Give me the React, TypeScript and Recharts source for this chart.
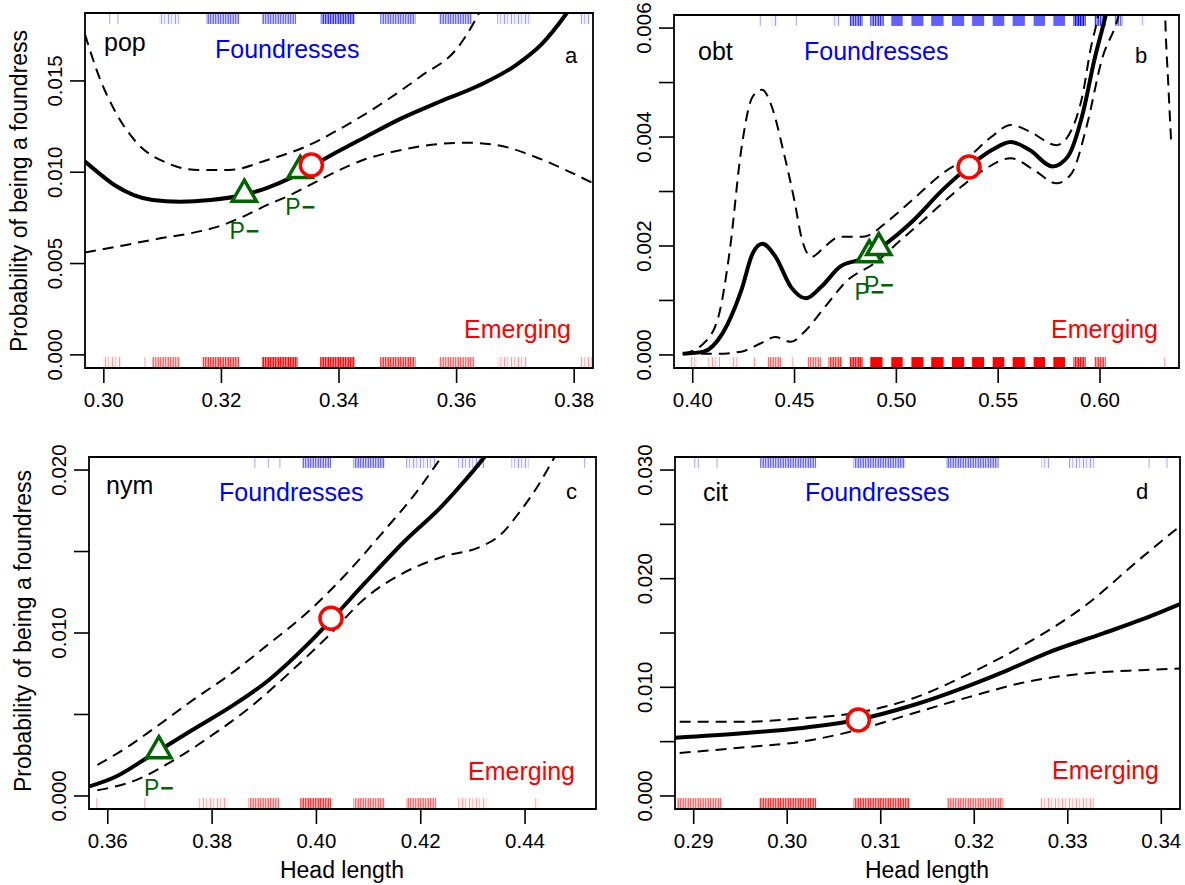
import { ComposedChart, Line, XAxis, YAxis, ReferenceArea, ReferenceDot } from 'recharts'

const FONT = '"Liberation Sans", Arial, Helvetica, sans-serif'
const BLUE = '#0000ff'
const RED = '#ff0000'
const GREEN = '#006400'

type Pair = [number, number]
type Rug = [number, number, number] // from, to, density level (1 sparse .. 5 solid)

// ---- a: pop
const popFit: Pair[] = [[0.2968, 0.01058], [0.2992, 0.00994], [0.3018, 0.0093], [0.3051, 0.00875], [0.3083, 0.00848], [0.3129, 0.00839], [0.3181, 0.00848], [0.3239, 0.00877], [0.3278, 0.00915], [0.3317, 0.00968], [0.3382, 0.01085], [0.3441, 0.01186], [0.3506, 0.01295], [0.3571, 0.01386], [0.3636, 0.01472], [0.3701, 0.01587], [0.3746, 0.01706], [0.3785, 0.01861], [0.381, 0.0198]]
const popUpper: Pair[] = [[0.2968, 0.01755], [0.2992, 0.01523], [0.3018, 0.01341], [0.3057, 0.01158], [0.3109, 0.01049], [0.3161, 0.01012], [0.3213, 0.01012], [0.3278, 0.01067], [0.3343, 0.0114], [0.3408, 0.01249], [0.3473, 0.01377], [0.3538, 0.01523], [0.3603, 0.01687], [0.3633, 0.0184], [0.365, 0.0195]]
const popLower: Pair[] = [[0.2968, 0.0056], [0.3038, 0.00602], [0.3096, 0.00638], [0.3148, 0.00666], [0.3194, 0.00702], [0.3239, 0.0076], [0.3278, 0.00821], [0.3317, 0.00875], [0.3356, 0.00939], [0.3395, 0.01003], [0.3441, 0.01067], [0.3506, 0.01122], [0.3571, 0.01155], [0.3616, 0.01162], [0.3668, 0.01149], [0.3733, 0.01085], [0.3779, 0.01022], [0.3832, 0.0094]]
const popTriangles: Pair[] = [[0.3239, 0.0088], [0.3334, 0.0101]]
const popCircles: Pair[] = [[0.3353, 0.0104]]
const popRugTop: Rug[] = [[0.3009, 0.3011, 1], [0.3023, 0.3025, 1], [0.3094, 0.313, 1], [0.3174, 0.323, 2], [0.3269, 0.3327, 2], [0.3369, 0.3427, 3], [0.347, 0.353, 2], [0.357, 0.3626, 2], [0.3669, 0.3727, 1], [0.3809, 0.3826, 1]]
const popRugBottom: Rug[] = [[0.2998, 0.3031, 1], [0.3069, 0.3071, 1], [0.3082, 0.3129, 2], [0.3168, 0.323, 3], [0.3269, 0.333, 4], [0.3368, 0.3427, 4], [0.347, 0.353, 3], [0.357, 0.363, 2], [0.367, 0.372, 1], [0.381, 0.383, 1]]
const popXTicks = [0.3, 0.32, 0.34, 0.36, 0.38]
const popYTicks = [0, 0.005, 0.01, 0.015]
const popYLabels = [0, 0.005, 0.01, 0.015]

// ---- b: obt
const obtFit: Pair[] = [[0.3951, 0.00002], [0.4053, 0.00006], [0.4147, 0.0004], [0.4239, 0.00119], [0.4295, 0.00187], [0.4342, 0.00204], [0.4407, 0.0018], [0.4482, 0.00125], [0.4556, 0.00104], [0.4631, 0.00125], [0.4724, 0.00162], [0.4836, 0.00177], [0.4929, 0.00199], [0.5078, 0.00245], [0.5227, 0.00303], [0.5357, 0.00346], [0.5469, 0.00376], [0.5562, 0.00391], [0.5655, 0.00376], [0.5767, 0.00346], [0.5842, 0.00364], [0.5916, 0.00444], [0.5972, 0.00541], [0.6028, 0.00624], [0.606, 0.0068]]
const obtUpper: Pair[] = [[0.3951, 0.00002], [0.4053, 0.00021], [0.4126, 0.0007], [0.4182, 0.00192], [0.4238, 0.00376], [0.4294, 0.00474], [0.4341, 0.00487], [0.4388, 0.00456], [0.4444, 0.00376], [0.4499, 0.00284], [0.4537, 0.00211], [0.4583, 0.0018], [0.4649, 0.00199], [0.4723, 0.00217], [0.4835, 0.00217], [0.4966, 0.00248], [0.5077, 0.00284], [0.5226, 0.00333], [0.5356, 0.00364], [0.5469, 0.00401], [0.5562, 0.00422], [0.5655, 0.0041], [0.5786, 0.00385], [0.586, 0.00413], [0.5916, 0.0048], [0.5953, 0.0056], [0.5991, 0.00624], [0.602, 0.007]]
const obtLower: Pair[] = [[0.3951, 0.00002], [0.4108, 0.00002], [0.4238, 0.00006], [0.4332, 0.00021], [0.4406, 0.00033], [0.4481, 0.00024], [0.4555, 0.00045], [0.4649, 0.00088], [0.476, 0.00137], [0.4891, 0.00168], [0.5022, 0.00211], [0.5171, 0.0026], [0.532, 0.00309], [0.5431, 0.0034], [0.5562, 0.00361], [0.5674, 0.0034], [0.5786, 0.00315], [0.586, 0.00333], [0.5934, 0.00419], [0.6009, 0.00542], [0.6092, 0.00624], [0.612, 0.0067]]
const obtLowerTail: Pair[] = [[0.6316, 0.0068], [0.6321, 0.00612], [0.6335, 0.005], [0.6349, 0.00394]]
const obtTriangles: Pair[] = [[0.4867, 0.00184], [0.4914, 0.00197]]
const obtCircles: Pair[] = [[0.5357, 0.00345]]
const obtRugTop: Rug[] = [[0.4331, 0.4333, 1], [0.4388, 0.4416, 1], [0.4508, 0.451, 1], [0.4686, 0.4723, 1], [0.477, 0.4835, 3], [0.4872, 0.4938, 3], [0.4975, 0.5031, 5], [0.5074, 0.5133, 5], [0.5171, 0.5232, 5], [0.5273, 0.5333, 5], [0.5372, 0.5431, 5], [0.5473, 0.553, 5], [0.5571, 0.5631, 5], [0.5674, 0.573, 5], [0.5771, 0.5828, 5], [0.587, 0.5929, 4], [0.5972, 0.6028, 3], [0.6071, 0.6112, 2], [0.6196, 0.6215, 1]]
const obtRugBottom: Rug[] = [[0.3987, 0.4024, 1], [0.4071, 0.4136, 1], [0.4182, 0.4229, 1], [0.4294, 0.4313, 1], [0.4369, 0.4434, 2], [0.4481, 0.4499, 1], [0.4565, 0.463, 2], [0.4667, 0.4733, 3], [0.477, 0.4835, 4], [0.4872, 0.4932, 5], [0.4975, 0.5031, 5], [0.5074, 0.5133, 5], [0.5171, 0.5232, 5], [0.5273, 0.5333, 5], [0.5372, 0.5431, 5], [0.5473, 0.553, 5], [0.5571, 0.5631, 5], [0.5674, 0.573, 5], [0.5771, 0.5828, 5], [0.587, 0.5929, 4], [0.5972, 0.6028, 3], [0.6316, 0.6318, 1]]
const obtXTicks = [0.4, 0.45, 0.5, 0.55, 0.6]
const obtYTicks = [0, 0.001, 0.002, 0.003, 0.004, 0.005, 0.006]
const obtYLabels = [0, 0.002, 0.004, 0.006]

// ---- c: nym
const nymFit: Pair[] = [[0.3563, 0.00057], [0.3615, 0.00118], [0.3674, 0.00231], [0.3762, 0.00405], [0.3836, 0.00548], [0.3909, 0.00712], [0.3983, 0.0093], [0.4028, 0.0108], [0.4094, 0.0131], [0.4168, 0.0156], [0.4241, 0.0178], [0.4286, 0.0194], [0.4322, 0.0208], [0.434, 0.0216]]
const nymUpper: Pair[] = [[0.358, 0.0019], [0.3638, 0.00301], [0.3697, 0.00434], [0.3763, 0.00588], [0.3837, 0.00752], [0.391, 0.00936], [0.3984, 0.0113], [0.4058, 0.01366], [0.4131, 0.01632], [0.419, 0.01857], [0.4238, 0.02072], [0.4255, 0.0215]]
const nymLower: Pair[] = [[0.358, 0.00035], [0.3653, 0.00096], [0.3726, 0.00219], [0.38, 0.00373], [0.3874, 0.00547], [0.3947, 0.00752], [0.4021, 0.00976], [0.4094, 0.01215], [0.4168, 0.0137], [0.4242, 0.01468], [0.4315, 0.0153], [0.4352, 0.016], [0.4389, 0.0174], [0.4426, 0.0191], [0.4455, 0.0207], [0.447, 0.0215]]
const nymTriangles: Pair[] = [[0.3698, 0.00278]]
const nymCircles: Pair[] = [[0.4028, 0.0109]]
const nymRugTop: Rug[] = [[0.3881, 0.3883, 1], [0.3907, 0.3909, 1], [0.3929, 0.3931, 1], [0.3973, 0.4028, 2], [0.4071, 0.4131, 2], [0.4172, 0.423, 1], [0.4271, 0.4323, 1], [0.4374, 0.4407, 1], [0.4513, 0.4515, 1]]
const nymRugBottom: Rug[] = [[0.3578, 0.358, 1], [0.367, 0.3672, 1], [0.3771, 0.3829, 1], [0.387, 0.3929, 2], [0.3969, 0.4028, 3], [0.4071, 0.4131, 2], [0.4172, 0.423, 2], [0.4271, 0.4326, 1], [0.4418, 0.4426, 1]]
const nymXTicks = [0.36, 0.38, 0.4, 0.42, 0.44]
const nymYTicks = [0, 0.005, 0.01, 0.015, 0.02]
const nymYLabels = [0, 0.01, 0.02]

// ---- d: cit
const citFit: Pair[] = [[0.288, 0.00536], [0.2952, 0.00577], [0.3013, 0.00623], [0.3074, 0.00699], [0.3135, 0.00837], [0.3196, 0.01021], [0.3236, 0.01159], [0.3277, 0.01313], [0.3338, 0.01497], [0.3378, 0.0162], [0.342, 0.01767]]
const citUpper: Pair[] = [[0.2885, 0.00682], [0.2952, 0.00682], [0.3013, 0.00713], [0.3074, 0.00765], [0.3134, 0.00897], [0.3195, 0.01127], [0.3256, 0.01404], [0.3317, 0.01741], [0.3378, 0.02187], [0.342, 0.02484]]
const citLower: Pair[] = [[0.2885, 0.00396], [0.2952, 0.00446], [0.3013, 0.00497], [0.3074, 0.00605], [0.3134, 0.00759], [0.3195, 0.00912], [0.3256, 0.0105], [0.3317, 0.01127], [0.3378, 0.01158], [0.342, 0.01173]]
const citCircles: Pair[] = [[0.3076, 0.00699]]
const citRugTop: Rug[] = [[0.29, 0.2902, 1], [0.2904, 0.2906, 1], [0.2924, 0.2926, 1], [0.2971, 0.3031, 2], [0.3071, 0.3126, 2], [0.317, 0.3226, 2], [0.3272, 0.328, 1], [0.3301, 0.3329, 1], [0.3386, 0.3388, 1], [0.3405, 0.3407, 1]]
const citRugBottom: Rug[] = [[0.2882, 0.293, 2], [0.297, 0.3031, 3], [0.3071, 0.3131, 3], [0.3171, 0.3231, 2], [0.327, 0.3329, 1]]
const citXTicks = [0.29, 0.3, 0.31, 0.32, 0.33, 0.34]
const citYTicks = [0, 0.005, 0.01, 0.015, 0.02, 0.025, 0.03]
const citYLabels = [0, 0.01, 0.02, 0.03]

const toPts = (a: Pair[]) => a.map(([x, y]) => ({ x, y }))

const panels = [
  { id: 'a', left: 0, top: 0, width: 600, height: 440, margin: { top: 13, right: 7, bottom: 22, left: 0 }, yWidth: 85,
    xDomain: [0.2968, 0.3832], yDomain: [-0.00072, 0.01872], xTicks: popXTicks, xDigits: 2, yTicks: popYTicks, yLabels: popYLabels,
    fit: popFit, upper: popUpper, lower: popLower, tails: [] as Pair[][], triangles: popTriangles, circles: popCircles, rugTop: popRugTop, rugBottom: popRugBottom },
  { id: 'b', left: 600, top: 0, width: 585, height: 440, margin: { top: 15, right: 6, bottom: 22, left: 0 }, yWidth: 74,
    xDomain: [0.3908, 0.6388], yDomain: [-0.00024, 0.00624], xTicks: obtXTicks, xDigits: 2, yTicks: obtYTicks, yLabels: obtYLabels,
    fit: obtFit, upper: obtUpper, lower: obtLower, tails: [obtLowerTail], triangles: obtTriangles, circles: obtCircles, rugTop: obtRugTop, rugBottom: obtRugBottom },
  { id: 'c', left: 0, top: 440, width: 600, height: 445, margin: { top: 17, right: 4, bottom: 26, left: 0 }, yWidth: 89,
    xDomain: [0.3564, 0.4536], yDomain: [-0.0008, 0.0208], xTicks: nymXTicks, xDigits: 2, yTicks: nymYTicks, yLabels: nymYLabels,
    fit: nymFit, upper: nymUpper, lower: nymLower, tails: [] as Pair[][], triangles: nymTriangles, circles: nymCircles, rugTop: nymRugTop, rugBottom: nymRugBottom },
  { id: 'd', left: 600, top: 440, width: 585, height: 445, margin: { top: 17, right: 5, bottom: 26, left: 0 }, yWidth: 75,
    xDomain: [0.288, 0.342], yDomain: [-0.0012, 0.0312], xTicks: citXTicks, xDigits: 2, yTicks: citYTicks, yLabels: citYLabels,
    fit: citFit, upper: citUpper, lower: citLower, tails: [] as Pair[][], triangles: [] as Pair[], circles: citCircles, rugTop: citRugTop, rugBottom: citRugBottom },
]

// band tint + stripe strength per density level
const LEVEL_BAND = [0, 0.06, 0.16, 0.28, 0.45]
const LEVEL_STRIPE = [0, 0.35, 0.5, 0.7, 0.9]

function rugShape(panelId: string, color: string, colorName: string, level: number) {
  return (p: any) => {
    const { x, y, width, height } = p
    if (level >= 5) {
      return <rect x={x} y={y} width={width} height={height} fill={color} fillOpacity={colorName === 'red' ? 1 : 0.62} />
    }
    if (width < 2.5) {
      return <rect x={x + width / 2 - 0.6} y={y} width={1.2} height={height} fill={color} fillOpacity={0.3} />
    }
    const pat = level === 1 ? 'sparse' : 'dense'
    return (
      <g>
        <rect x={x} y={y} width={width} height={height} fill={color} fillOpacity={LEVEL_BAND[level]} />
        <rect x={x} y={y} width={width} height={height} fill={`url(#${panelId}-${colorName}-${pat})`} fillOpacity={LEVEL_STRIPE[level]} />
      </g>
    )
  }
}

const triangleShape = (p: any) => {
  const { cx, cy } = p
  const r = 14
  const d = `M${cx},${cy - r} L${cx + r * 0.866},${cy + r / 2} L${cx - r * 0.866},${cy + r / 2} Z`
  return (
    <g>
      <path d={d} fill="#fff" stroke={GREEN} strokeWidth={3.5} />
      <text x={cx} y={cy + 45} textAnchor="middle" fontSize={23} fontFamily={FONT} fill={GREEN}>
        P<tspan fontWeight="bold" dx={1}>−</tspan>
      </text>
    </g>
  )
}

const circleShape = (p: any) => (
  <circle cx={p.cx} cy={p.cy} r={11} fill="#fff" stroke={RED} strokeWidth={3.5} />
)

function YTick(props: any) {
  const { x, y, payload, labels } = props
  if (!labels.some((v: number) => Math.abs(v - payload.value) < 1e-9)) return <g />
  const cx = x - 15
  return (
    <text x={cx} y={y} transform={`rotate(-90 ${cx} ${y})`} textAnchor="middle" dy="0.35em"
      fontSize={20.5} fontFamily={FONT} fill="#000">
      {payload.value.toFixed(3)}
    </text>
  )
}

function Patterns({ id }: { id: string }) {
  const cols: [string, string][] = [['blue', BLUE], ['red', RED]]
  return (
    <defs>
      {cols.map(([name, c]) => (
        <pattern key={name + 'd'} id={`${id}-${name}-dense`} patternUnits="userSpaceOnUse" width={5} height={40}>
          <rect x={0} y={0} width={1} height={40} fill={c} />
          <rect x={1.6} y={0} width={1} height={40} fill={c} fillOpacity={0.6} />
          <rect x={3} y={0} width={1} height={40} fill={c} />
        </pattern>
      ))}
      {cols.map(([name, c]) => (
        <pattern key={name + 's'} id={`${id}-${name}-sparse`} patternUnits="userSpaceOnUse" width={7} height={40}>
          <rect x={0} y={0} width={1} height={40} fill={c} />
          <rect x={3} y={0} width={1} height={40} fill={c} fillOpacity={0.6} />
        </pattern>
      ))}
    </defs>
  )
}

function Panel({ p }: { p: (typeof panels)[number] }) {
  const [x0, x1] = p.xDomain
  const [y0, y1] = p.yDomain
  const rugH = (y1 - y0) * 0.031
  const dashed = { stroke: '#000', strokeWidth: 2, strokeDasharray: '11 7', dot: false, activeDot: false, isAnimationActive: false, type: 'monotone' as const }
  return (
    <div style={{ position: 'absolute', left: p.left, top: p.top }}>
      <ComposedChart width={p.width} height={p.height} margin={p.margin}>
        <Patterns id={p.id} />
        <XAxis type="number" dataKey="x" domain={p.xDomain} ticks={p.xTicks} allowDataOverflow interval={0}
          axisLine={false} tickLine={{ stroke: '#000', strokeWidth: 1.6 }} tickSize={15} tickMargin={9} height={50}
          tick={{ fontSize: 20.5, fill: '#000', fontFamily: FONT }} tickFormatter={(v: number) => v.toFixed(p.xDigits)} />
        <YAxis type="number" domain={p.yDomain} ticks={p.yTicks} allowDataOverflow interval={0}
          axisLine={false} tickLine={{ stroke: '#000', strokeWidth: 1.6 }} tickSize={15} tickMargin={0} width={p.yWidth}
          tick={(t: any) => <YTick {...t} labels={p.yLabels} />} />
        {p.rugTop.map(([a, b, lv], i) => (
          <ReferenceArea key={'t' + i} x1={a} x2={b} y1={y1 - rugH} y2={y1} ifOverflow="visible"
            shape={rugShape(p.id, BLUE, 'blue', lv)} />
        ))}
        {p.rugBottom.map(([a, b, lv], i) => (
          <ReferenceArea key={'b' + i} x1={a} x2={b} y1={y0} y2={y0 + rugH} ifOverflow="visible"
            shape={rugShape(p.id, RED, 'red', lv)} />
        ))}
        <Line data={toPts(p.upper)} dataKey="y" {...dashed} />
        <Line data={toPts(p.lower)} dataKey="y" {...dashed} />
        {p.tails.map((t, i) => (
          <Line key={'tail' + i} data={toPts(t)} dataKey="y" {...dashed} />
        ))}
        <Line data={toPts(p.fit)} dataKey="y" type="monotone" stroke="#000" strokeWidth={4} dot={false} activeDot={false} isAnimationActive={false} />
        <ReferenceArea x1={x0} x2={x1} y1={y0} y2={y1} fill="none" stroke="#000" strokeWidth={1.8} ifOverflow="visible" />
        {p.triangles.map(([x, y], i) => (
          <ReferenceDot key={'tr' + i} x={x} y={y} ifOverflow="visible" shape={triangleShape} />
        ))}
        {p.circles.map(([x, y], i) => (
          <ReferenceDot key={'ci' + i} x={x} y={y} ifOverflow="visible" shape={circleShape} />
        ))}
      </ComposedChart>
    </div>
  )
}

const labelTexts = [
  { name: 'pop', nx: 104, ny: 51, fx: 215, fy: 58, letter: 'a', lx: 565, ly: 63, ex: 571, ey: 338 },
  { name: 'obt', nx: 698, ny: 60, fx: 804, fy: 60, letter: 'b', lx: 1135, ly: 63, ex: 1158, ey: 338 },
  { name: 'nym', nx: 106, ny: 494, fx: 219, fy: 501, letter: 'c', lx: 566, ly: 499, ex: 575, ey: 780 },
  { name: 'cit', nx: 703, ny: 501, fx: 805, fy: 501, letter: 'd', lx: 1136, ly: 499, ex: 1159, ey: 779 },
]

export default function App() {
  return (
    <div style={{ position: 'absolute', left: 0, top: 0, width: 1185, height: 885, background: '#fff', fontFamily: FONT }}>
      {panels.map((p) => <Panel key={p.id} p={p} />)}
      <svg width={1185} height={885} style={{ position: 'absolute', left: 0, top: 0, pointerEvents: 'none' }} fontFamily={FONT}>
        {labelTexts.map((t) => (
          <g key={t.name}>
            <text x={t.nx} y={t.ny} fontSize={25} fill="#000">{t.name}</text>
            <text x={t.fx} y={t.fy} fontSize={25} fill={BLUE}>Foundresses</text>
            <text x={t.lx} y={t.ly} fontSize={22} fill="#000">{t.letter}</text>
            <text x={t.ex} y={t.ey} fontSize={25} fill={RED} textAnchor="end">Emerging</text>
          </g>
        ))}
        <text x={19} y={191} transform="rotate(-90 19 191)" textAnchor="middle" dy="0.35em" fontSize={23}>Probability of being a foundress</text>
        <text x={23} y={631} transform="rotate(-90 23 631)" textAnchor="middle" dy="0.35em" fontSize={23}>Probability of being a foundress</text>
        <text x={342} y={878} textAnchor="middle" fontSize={23}>Head length</text>
        <text x={927} y={878} textAnchor="middle" fontSize={23}>Head length</text>
      </svg>
    </div>
  )
}
